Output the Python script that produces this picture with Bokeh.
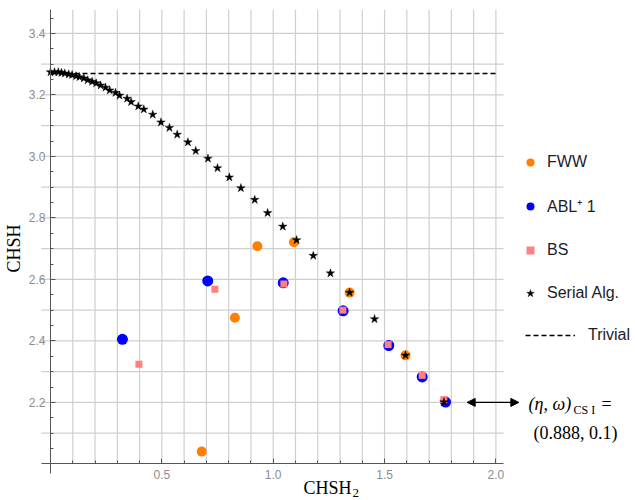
import math
from bokeh.plotting import figure
from bokeh.models import (FixedTicker, Legend, LegendItem, Label, Arrow,
                          NormalHead, NumeralTickFormatter)
from bokeh.embed import file_html
from bokeh.resources import INLINE

# ---------------- data ----------------
fww_x = [0.679, 0.828, 0.929, 1.093, 1.343, 1.594]
fww_y = [2.040, 2.475, 2.708, 2.721, 2.557, 2.353]

abl_x = [0.323, 0.706, 1.045, 1.314, 1.519, 1.669, 1.774]
abl_y = [2.405, 2.595, 2.589, 2.498, 2.385, 2.283, 2.201]

bs_x = [0.397, 0.738, 1.048, 1.313, 1.516, 1.669, 1.766]
bs_y = [2.324, 2.568, 2.585, 2.500, 2.388, 2.288, 2.209]

serial_x = [0.000, 0.018, 0.035, 0.049, 0.064, 0.082, 0.097, 0.115, 0.130,
            0.150, 0.167, 0.187, 0.205, 0.225, 0.247, 0.266, 0.292, 0.310,
            0.344, 0.362, 0.394, 0.419, 0.459, 0.496, 0.534, 0.569, 0.617,
            0.652, 0.707, 0.750, 0.803, 0.855, 0.917, 0.975, 1.043, 1.105,
            1.180, 1.257, 1.343, 1.455, 1.594, 1.767]
serial_y = [3.274, 3.274, 3.274, 3.272, 3.270, 3.267, 3.265, 3.261, 3.258,
            3.254, 3.248, 3.243, 3.238, 3.231, 3.224, 3.215, 3.207, 3.198,
            3.188, 3.177, 3.163, 3.153, 3.136, 3.111, 3.093, 3.071, 3.046,
            3.018, 2.993, 2.962, 2.932, 2.897, 2.859, 2.816, 2.772, 2.728,
            2.677, 2.620, 2.557, 2.471, 2.353, 2.201]

trivial_x = [0.0, 2.0]
trivial_y = [3.27, 3.27]

x_major = [0.5, 1.0, 1.5, 2.0]
x_minor = [0.1, 0.2, 0.3, 0.4, 0.5, 0.6, 0.7, 0.8, 0.9, 1.0,
           1.1, 1.2, 1.3, 1.4, 1.5, 1.6, 1.7, 1.8, 1.9, 2.0]
y_major = [2.2, 2.4, 2.6, 2.8, 3.0, 3.2, 3.4]
y_grid = [2.1, 2.2, 2.3, 2.4, 2.5, 2.6, 2.7, 2.8, 2.9, 3.0, 3.1, 3.2, 3.3, 3.4]
y_minor = [2.05, 2.1, 2.15, 2.2, 2.25, 2.3, 2.35, 2.4, 2.45, 2.5, 2.55, 2.6,
           2.65, 2.7, 2.75, 2.8, 2.85, 2.9, 2.95, 3.0, 3.05, 3.1, 3.15, 3.2,
           3.25, 3.3, 3.35, 3.4, 3.45]

# plot region (the axes cross at x=0, y=2.0)
x_lo, x_hi = -0.042, 2.035
y_lo, y_hi = 2.0, 3.477

# annotation arrow pointing at the CS I point
arrow_x = [1.871, 2.103]
arrow_y = 2.2

# ---------------- figure ----------------
W, H = 634, 498
XS = 222.7          # px per x unit
YS = 307.5          # px per y unit
X0, Y0 = 50, 463.4  # pixel of the origin (0, 2.0)
p = figure(width=W, height=H,
           x_range=(-X0 / XS, (W - X0) / XS),
           y_range=(2.0 - (H - Y0) / YS, 2.0 + Y0 / YS),
           output_backend="svg", toolbar_location=None, title=None,
           min_border_left=0, min_border_right=0,
           min_border_top=0, min_border_bottom=0)
p.outline_line_color = None
p.background_fill_color = "white"
p.border_fill_color = "white"
p.xgrid.visible = False
p.ygrid.visible = False

GRID = "#cfcfcf"
# grid lines limited to the plot region
p.segment(x0=x_minor, y0=[y_lo] * len(x_minor), x1=x_minor, y1=[y_hi] * len(x_minor),
          line_color=GRID, line_width=1.2)
p.segment(x0=[x_lo] * len(y_grid), y0=y_grid, x1=[x_hi] * len(y_grid), y1=y_grid,
          line_color=GRID, line_width=1.2)

for ax in (p.xaxis[0], p.yaxis[0]):
    ax.axis_line_color = "#555555"
    ax.major_tick_line_color = "#555555"
    ax.minor_tick_line_color = "#555555"
    ax.major_tick_in = 5
    ax.major_tick_out = 0
    ax.minor_tick_in = 3
    ax.minor_tick_out = 0
    ax.major_label_text_font = "Liberation Sans"
    ax.major_label_text_font_size = "12px"
    ax.major_label_text_color = "#8c8c8c"
    ax.formatter = NumeralTickFormatter(format="0.0")

p.xaxis[0].fixed_location = 2.0
p.yaxis[0].fixed_location = 0.0
p.xaxis[0].bounds = (x_lo, x_hi)
p.yaxis[0].bounds = (1.968, y_hi)
p.xaxis[0].ticker = FixedTicker(ticks=x_major, minor_ticks=x_minor)
p.yaxis[0].ticker = FixedTicker(ticks=y_major, minor_ticks=y_minor)
p.xaxis[0].major_label_standoff = 6
p.yaxis[0].major_label_standoff = 5

# ---------------- marks ----------------
r_triv = p.line(trivial_x, trivial_y, line_color="black", line_width=1.5,
                line_dash="5 3")
r_fww = p.scatter(fww_x, fww_y, marker="circle", size=10,
                  fill_color="#FF8000", line_color=None)
r_abl = p.scatter(abl_x, abl_y, marker="circle", size=11,
                  fill_color="#0000FF", line_color=None)
r_bs = p.scatter(bs_x, bs_y, marker="square", size=7,
                 fill_color="#FF8080", line_color=None)
r_ser = p.scatter(serial_x, serial_y, marker="star", size=9,
                  fill_color="black", line_color="black", line_width=0.4)

# ---------------- legends ----------------
common = dict(padding=0, margin=0, background_fill_alpha=0,
              border_line_alpha=0, label_text_font="Liberation Sans",
              label_text_font_size="16px", label_text_color="#1c1c2c",
              glyph_height=20, label_height=20)
leg1 = Legend(items=[LegendItem(label="FWW", renderers=[r_fww]),
                     LegendItem(label="ABL\u207a 1", renderers=[r_abl]),
                     LegendItem(label="BS", renderers=[r_bs]),
                     LegendItem(label="Serial Alg.", renderers=[r_ser])],
              location=(520, H - 303), glyph_width=20, spacing=23,
              label_standoff=7, **common)
leg2 = Legend(items=[LegendItem(label="Trivial", renderers=[r_triv])],
              location=(525, H - 345), glyph_width=50, label_standoff=13,
              **common)
p.add_layout(leg1)
p.add_layout(leg2)

# ---------------- axis titles ----------------
SERIF = "Liberation Serif"


def lab(x, y, text, size, **kw):
    p.add_layout(Label(x=x, y=H - y, x_units="screen", y_units="screen",
                       text=text, text_font=SERIF, text_font_size=size,
                       text_align=kw.pop("align", "left"),
                       text_baseline="middle", text_color="black", **kw))


lab(13, 248, "CHSH", "18px", angle=math.pi / 2, align="center")
lab(303, 487, "CHSH", "18px")
lab(352, 492, "2", "13px")

# ---------------- annotation ----------------
p.add_layout(Arrow(start=NormalHead(size=8, fill_color="black", line_color="black"),
                   end=NormalHead(size=8, fill_color="black", line_color="black"),
                   x_start=arrow_x[0], y_start=arrow_y,
                   x_end=arrow_x[1], y_end=arrow_y,
                   line_color="black", line_width=1.2))
lab(528, 403, "(\u03b7, \u03c9)", "18px", text_font_style="italic")
lab(573, 409, "CS I", "12px")
lab(601, 403, "=", "18px")
lab(533, 432, "(0.888, 0.1)", "18px")

open("out.html", "w").write(file_html(p, INLINE))
